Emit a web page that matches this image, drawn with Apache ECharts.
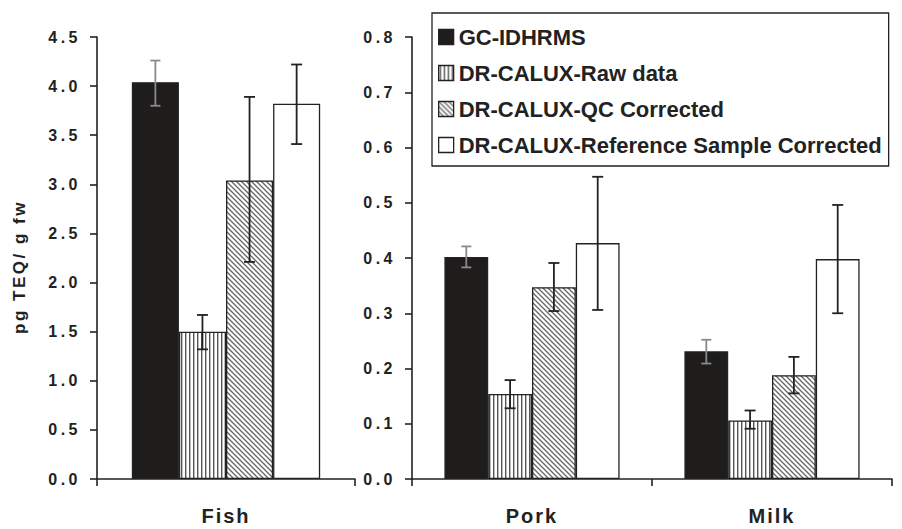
<!DOCTYPE html>
<html>
<head>
<meta charset="utf-8">
<script src="https://cdn.jsdelivr.net/npm/echarts@6/dist/echarts.min.js"></script>
<style>
html,body{margin:0;padding:0;background:#fff;}
#main{width:902px;height:529px;}
</style>
</head>
<body>
<div id="main"></div>
<script>
// ---- data ----
const categoriesLeft = ['Fish'];
const categoriesRight = ['Pork', 'Milk'];
const seriesNames = ['GC-IDHRMS', 'DR-CALUX-Raw data', 'DR-CALUX-QC Corrected', 'DR-CALUX-Reference Sample Corrected'];
// values per category: Fish, Pork, Milk
const gcValues  = [4.04, 0.402, 0.231];
const gcLow     = [3.80, 0.383, 0.209];
const gcHigh    = [4.26, 0.421, 0.252];
const rawValues = [1.50, 0.154, 0.106];
const rawLow    = [1.32, 0.128, 0.091];
const rawHigh   = [1.67, 0.179, 0.124];
const qcValues  = [3.04, 0.347, 0.188];
const qcLow     = [2.21, 0.304, 0.155];
const qcHigh    = [3.89, 0.391, 0.221];
const refValues = [3.82, 0.427, 0.398];
const refLow    = [3.41, 0.306, 0.300];
const refHigh   = [4.22, 0.547, 0.496];
const leftTicks = { min: 0, max: 4.5, interval: 0.5 };
const rightTicks = { min: 0, max: 0.8, interval: 0.1 };
const yTitle = 'pg TEQ/ g fw';

const FONT = '"Liberation Sans", Arial, sans-serif';
const DARK = '#1f1c1c';

function makePattern(kind) {
  const c = document.createElement('canvas');
  const n = kind === 'vert' ? 4 : 5;
  c.width = n; c.height = n;
  const ctx = c.getContext('2d');
  ctx.fillStyle = '#fff';
  ctx.fillRect(0, 0, n, n);
  if (kind === 'vert') {
    ctx.fillStyle = '#555';
    ctx.fillRect(1, 0, 1.4, n);
  } else {
    ctx.strokeStyle = '#666';
    ctx.lineWidth = 1.3;
    ctx.beginPath();
    ctx.moveTo(-1, -1); ctx.lineTo(n + 1, n + 1);
    ctx.moveTo(-1, n - 1); ctx.lineTo(1, n + 1);
    ctx.moveTo(n - 1, -1); ctx.lineTo(n + 1, 1);
    ctx.stroke();
  }
  return { image: c, repeat: 'repeat' };
}

const fills = [DARK, makePattern('vert'), makePattern('diag'), '#ffffff'];
const allValues = [gcValues, rawValues, qcValues, refValues];
const allLow = [gcLow, rawLow, qcLow, refLow];
const allHigh = [gcHigh, rawHigh, qcHigh, refHigh];

const GAP = 0.27;

function barSeries(gridIdx, idxs) {
  return seriesNames.map((name, si) => ({
    name: name,
    type: 'bar',
    xAxisIndex: gridIdx, yAxisIndex: gridIdx,
    barGap: 0,
    barCategoryGap: (GAP * 100) + '%',
    data: idxs.map(i => allValues[si][i]),
    itemStyle: { color: fills[si], borderColor: '#222', borderWidth: 1.3 },
    emphasis: { disabled: true },
    z: 2
  }));
}

function errorSeries(gridIdx, idxs) {
  const data = [];
  idxs.forEach((ci, k) => {
    for (let si = 0; si < 4; si++) data.push([k, si, allLow[si][ci], allHigh[si][ci]]);
  });
  return {
    type: 'custom',
    xAxisIndex: gridIdx, yAxisIndex: gridIdx,
    encode: { x: 0, y: [2, 3] },
    data: data,
    z: 5,
    silent: true,
    renderItem: function (params, api) {
      const cat = api.value(0), si = api.value(1);
      const top = api.coord([cat, api.value(3)]);
      const bot = api.coord([cat, api.value(2)]);
      const cw = api.size([1, 0])[0];
      const bw = cw * (1 - GAP) / 4;
      const x = top[0] + (si - 1.5) * bw;
      const half = si === 0 ? 5 : 5.5;
      const col = si === 0 ? '#8a8a8a' : '#222';
      const st = { stroke: col, lineWidth: 1.8 };
      return {
        type: 'group',
        children: [
          { type: 'line', shape: { x1: x, y1: top[1], x2: x, y2: bot[1] }, style: st },
          { type: 'line', shape: { x1: x - half, y1: top[1], x2: x + half, y2: top[1] }, style: st },
          { type: 'line', shape: { x1: x - half, y1: bot[1], x2: x + half, y2: bot[1] }, style: st }
        ]
      };
    }
  };
}

const axisLine = { show: true, lineStyle: { color: '#222', width: 1.6 } };
const axisTick = { show: true, length: 7, lineStyle: { color: '#222', width: 1.6 } };

function xAxisCfg(gridIdx, cats) {
  return {
    type: 'category', gridIndex: gridIdx, data: cats,
    axisLine: axisLine,
    axisTick: Object.assign({ alignWithLabel: false, inside: false }, axisTick),
    axisLabel: { fontFamily: FONT, fontWeight: 'bold', fontSize: 20, color: '#222', margin: 27 },
    splitLine: { show: false }
  };
}
function yAxisCfg(gridIdx, t, withName) {
  const cfg = {
    type: 'value', gridIndex: gridIdx, min: t.min, max: t.max, interval: t.interval,
    axisLine: axisLine, axisTick: axisTick,
    axisLabel: { fontFamily: FONT, fontWeight: 'bold', fontSize: 16, color: '#222', margin: 16,
      formatter: v => v.toFixed(1) },
    splitLine: { show: false }
  };
  if (withName) {
    cfg.name = yTitle;
    cfg.nameLocation = 'middle';
    cfg.nameGap = 69;
    cfg.nameRotate = 90;
    cfg.nameTextStyle = { fontFamily: FONT, fontWeight: 'bold', fontSize: 17, color: '#222', padding: [0, 18, 0, 0] };
  }
  return cfg;
}

const chart = echarts.init(document.getElementById('main'), null, { renderer: 'svg' });
chart.setOption({
  animation: false,
  backgroundColor: '#fff',
  grid: [
    { left: 97, top: 37, width: 258, height: 442 },
    { left: 412, top: 37, width: 480, height: 442 }
  ],
  legend: {
    data: seriesNames,
    orient: 'vertical',
    left: 432, top: 13,
    padding: [13, 7, 10, 6],
    itemGap: 14,
    itemWidth: 15, itemHeight: 15,
    itemStyle: { borderColor: '#222', borderWidth: 1.3 },
    icon: 'rect',
    borderColor: '#222', borderWidth: 1.3,
    textStyle: { fontFamily: FONT, fontWeight: 'bold', fontSize: 22, color: '#222' },
    selectedMode: false
  },
  xAxis: [xAxisCfg(0, categoriesLeft), xAxisCfg(1, categoriesRight)],
  yAxis: [yAxisCfg(0, leftTicks, true), yAxisCfg(1, rightTicks, false)],
  series: [].concat(
    barSeries(0, [0]), barSeries(1, [1, 2]),
    [errorSeries(0, [0]), errorSeries(1, [1, 2])]
  )
});

function applySpacing() {
  document.querySelectorAll('#main svg text').forEach(t => {
    const s = t.textContent.trim();
    if (/^\d\.\d$/.test(s)) t.style.letterSpacing = '3.5px';
    else if (categoriesLeft.concat(categoriesRight).indexOf(s) >= 0) t.style.letterSpacing = '2px';
    else if (s === yTitle) t.style.letterSpacing = '2.5px';
  });
}
applySpacing();
chart.on('finished', applySpacing);
</script>
</body>
</html>
